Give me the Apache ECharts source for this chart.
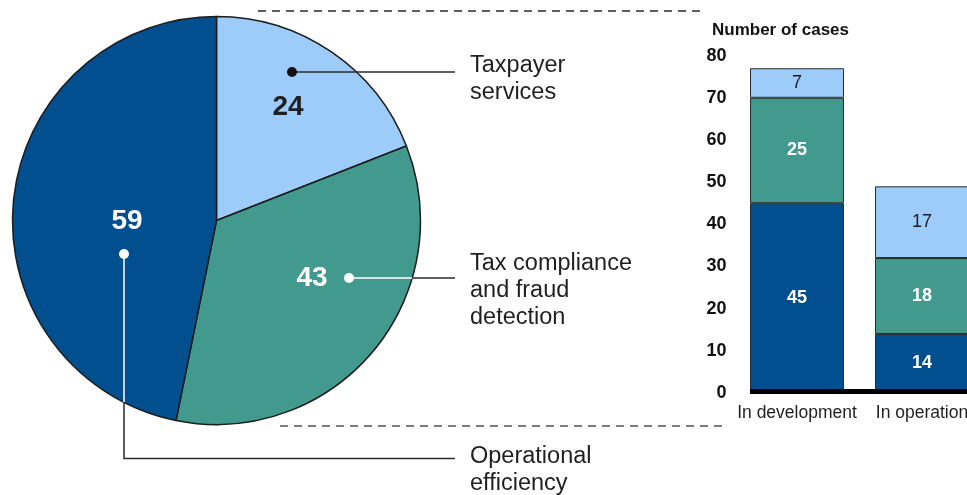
<!DOCTYPE html>
<html>
<head>
<meta charset="utf-8">
<script src="https://cdn.jsdelivr.net/npm/echarts@6/dist/echarts.min.js"></script>
<style>
  html, body { margin: 0; padding: 0; background: #ffffff; }
  #chart { width: 967px; height: 495px; }
</style>
</head>
<body>
<div id="chart"></div>
<script>
// Use-case categories (pie order, clockwise from 12 o'clock)
const useCases = ['Taxpayer services', 'Tax compliance and fraud detection', 'Operational efficiency'];
const useCaseLabels = ['Taxpayer\nservices', 'Tax compliance\nand fraud\ndetection', 'Operational\nefficiency'];
const useCaseTotals = [24, 43, 59];

// Stage breakdown (stacked bars)
const stages = ['In development', 'In operation'];
const operationalByStage = [45, 14];
const complianceByStage = [25, 18];
const servicesByStage = [7, 17];

const yTicks = { min: 0, max: 80, interval: 10 };
const yTitle = 'Number of cases';

const COLORS = {
  services: '#9dcbfa',
  compliance: '#429a8f',
  operational: '#024f8f',
  outline: '#1c1c1c',
  text: '#1f1f1f'
};
const FONT = '"Liberation Sans", Arial, Helvetica, sans-serif';

// Pie geometry
const PIE_CENTER = [216.5, 220.5];
const PIE_RADIUS = 204;
// Where each slice's value label sits
const pieLabelPos = [[288, 107], [312, 278], [127, 221]];
const pieLabelColor = [COLORS.text, '#ffffff', '#ffffff'];

const BAR_WIDTH = 94;

const chart = echarts.init(document.getElementById('chart'), null, { renderer: 'canvas' });

const pieColors = [COLORS.services, COLORS.compliance, COLORS.operational];

function barSeries(name, values, color, labelColor, bold) {
  return {
    name: name,
    type: 'bar',
    stack: 'stage',
    barWidth: BAR_WIDTH,
    data: values,
    itemStyle: { color: color, borderColor: '#2a2a2a', borderWidth: 1 },
    label: {
      show: true,
      position: 'inside',
      color: labelColor,
      fontFamily: FONT,
      fontSize: 18,
      fontWeight: bold ? 'bold' : 'normal'
    },
    emphasis: { disabled: true },
    animation: false
  };
}

const option = {
  animation: false,
  backgroundColor: '#ffffff',
  title: {
    text: yTitle,
    left: 707,
    top: 17,
    textStyle: { fontFamily: FONT, fontSize: 17, fontWeight: 'bold', color: '#111' }
  },
  grid: {
    left: 734.5, width: 250, top: 55.6, height: 337.4,
    containLabel: false,
    outerBoundsMode: 'none'
  },
  xAxis: {
    type: 'category',
    data: stages,
    axisLine: { show: false },
    axisTick: { show: false },
    axisLabel: { color: COLORS.text, fontFamily: FONT, fontSize: 17.5, margin: 11, interval: 0, hideOverlap: false }
  },
  yAxis: {
    type: 'value',
    min: yTicks.min,
    max: yTicks.max,
    interval: yTicks.interval,
    splitLine: { show: false },
    axisLine: { show: false },
    axisTick: { show: false },
    axisLabel: { color: '#111', fontFamily: FONT, fontSize: 18, fontWeight: 'bold', margin: 8 }
  },
  series: [
    {
      type: 'pie',
      center: PIE_CENTER,
      radius: PIE_RADIUS,
      startAngle: 90,
      clockwise: true,
      silent: true,
      data: useCases.map((n, i) => ({
        name: n,
        value: useCaseTotals[i],
        itemStyle: { color: pieColors[i] },
        label: { color: pieLabelColor[i] }
      })),
      itemStyle: { borderColor: COLORS.outline, borderWidth: 1.5 },
      label: {
        show: true,
        position: 'inside',
        formatter: '{c}',
        fontFamily: FONT,
        fontSize: 28,
        fontWeight: 'bold'
      },
      labelLine: { show: false },
      labelLayout: (p) => ({
        x: pieLabelPos[p.dataIndex][0],
        y: pieLabelPos[p.dataIndex][1],
        align: 'center',
        verticalAlign: 'middle'
      }),
      animation: false
    },
    barSeries('Operational efficiency', operationalByStage, COLORS.operational, '#ffffff', true),
    barSeries('Tax compliance and fraud detection', complianceByStage, COLORS.compliance, '#ffffff', true),
    barSeries('Taxpayer services', servicesByStage, COLORS.services, COLORS.text, false)
  ]
};

chart.setOption(option);

// Annotation layer: leader lines, category captions, dashed connectors, baseline
const baseY = chart.convertToPixel({ yAxisIndex: 0 }, 0);
const firstBarLeft = chart.convertToPixel({ xAxisIndex: 0 }, stages[0]) - BAR_WIDTH / 2;

function pieEdgeX(y) {
  const dy = y - PIE_CENTER[1];
  return PIE_CENTER[0] + Math.sqrt(PIE_RADIUS * PIE_RADIUS - dy * dy);
}
function pieEdgeYBelow(x) {
  const dx = x - PIE_CENTER[0];
  return PIE_CENTER[1] + Math.sqrt(PIE_RADIUS * PIE_RADIUS - dx * dx);
}

const LINE_END_X = 455;
const leaderColor = '#2b2b2b';
const g = [];

// Taxpayer services leader
g.push({ type: 'line', shape: { x1: 292, y1: 72, x2: LINE_END_X, y2: 72 }, style: { stroke: leaderColor, lineWidth: 1.5 }, z: 100 });
g.push({ type: 'circle', shape: { cx: 292, cy: 72, r: 5 }, style: { fill: '#111' }, z: 101 });

// Tax compliance leader (white inside the slice, dark outside)
const compY = 278;
const compEdge = pieEdgeX(compY);
g.push({ type: 'line', shape: { x1: 349, y1: compY, x2: compEdge, y2: compY }, style: { stroke: '#ffffff', lineWidth: 1.5 }, z: 100 });
g.push({ type: 'line', shape: { x1: compEdge, y1: compY, x2: LINE_END_X, y2: compY }, style: { stroke: leaderColor, lineWidth: 1.5 }, z: 100 });
g.push({ type: 'circle', shape: { cx: 349, cy: compY, r: 5 }, style: { fill: '#ffffff' }, z: 101 });

// Operational efficiency leader (elbow)
const opX = 124, opTop = 254, opBottom = 458.5;
const opEdge = pieEdgeYBelow(opX);
g.push({ type: 'line', shape: { x1: opX, y1: opTop, x2: opX, y2: opEdge }, style: { stroke: '#ffffff', lineWidth: 1.5 }, z: 100 });
g.push({ type: 'polyline', shape: { points: [[opX, opEdge], [opX, opBottom], [LINE_END_X, opBottom]] }, style: { stroke: leaderColor, lineWidth: 1.5, fill: null }, z: 100 });
g.push({ type: 'circle', shape: { cx: opX, cy: opTop, r: 5 }, style: { fill: '#ffffff' }, z: 101 });

// Category captions
const captionTops = [52.5, 250.5, 443.5];
useCaseLabels.forEach((t, i) => {
  g.push({
    type: 'text',
    x: 470,
    y: captionTops[i],
    style: { text: t, fill: COLORS.text, font: '23.5px ' + FONT, lineHeight: 27, verticalAlign: 'top', align: 'left' },
    z: 100
  });
});

// Dashed connectors between pie and bar panel
g.push({ type: 'line', shape: { x1: 258, y1: 11, x2: 705, y2: 11 }, style: { stroke: '#2a2a2a', lineWidth: 1.5, lineDash: [8, 6] }, z: 100 });
g.push({ type: 'line', shape: { x1: 280, y1: 426, x2: 727, y2: 426 }, style: { stroke: '#555', lineWidth: 1.5, lineDash: [8, 6] }, z: 100 });

// Bar baseline
g.push({ type: 'line', shape: { x1: firstBarLeft, y1: baseY - 1.5, x2: 967, y2: baseY - 1.5 }, style: { stroke: '#000', lineWidth: 5 }, z: 100 });

chart.setOption({ graphic: g });
</script>
</body>
</html>
